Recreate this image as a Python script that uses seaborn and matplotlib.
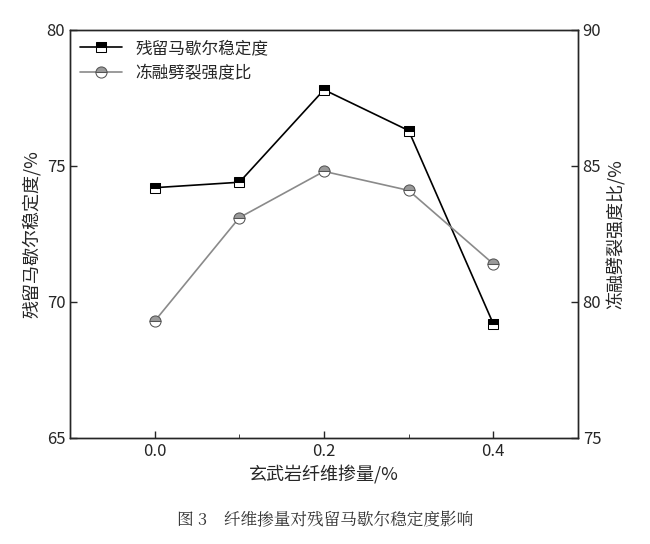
import matplotlib
matplotlib.use("Agg")
import matplotlib.pyplot as plt
import seaborn as sns
import pandas as pd

x = [0.0, 0.1, 0.2, 0.3, 0.4]
stability = [74.2, 74.4, 77.8, 76.3, 69.2]
ratio = [79.3, 83.1, 84.8, 84.1, 81.4]
name1 = "残留马歇尔稳定度"
name2 = "冻融劈裂强度比"

sns.set_style("ticks")
plt.rcParams['font.family'] = ['Noto Sans CJK SC', 'DejaVu Sans']

fig = plt.figure(figsize=(6.5, 5.44), dpi=100)
ax = fig.add_axes([0.108, 0.195, 0.781, 0.75])
ax2 = ax.twinx()
df = pd.DataFrame({"x": x, "s": stability, "r": ratio})

sns.lineplot(data=df, x="x", y="s", ax=ax, color="black", lw=1.2, marker="s",
             markersize=7, fillstyle="top", markerfacecoloralt="white",
             markeredgecolor="black", label=name1, legend=False)
sns.lineplot(data=df, x="x", y="r", ax=ax2, color="#8a8a8a", lw=1.2, marker="o",
             markersize=8, fillstyle="top", markerfacecolor="#9a9a9a",
             markerfacecoloralt="white", markeredgecolor="#555555", label=name2, legend=False)

ax.set_xlim(-0.1, 0.5)
ax.set_ylim(65, 80)
ax2.set_ylim(75, 90)
ax.set_xticks([0.0, 0.2, 0.4])
ax.set_xticks([0.1, 0.3], minor=True)
ax.set_yticks([65, 70, 75, 80])
ax2.set_yticks([75, 80, 85, 90])
for a in (ax, ax2):
    a.tick_params(direction="in", labelsize=12, width=1, length=5)
    a.tick_params(which="minor", direction="in", length=3)
    for s in a.spines.values():
        s.set_visible(True)
        s.set_linewidth(1)
ax.xaxis.set_major_formatter(matplotlib.ticker.FormatStrFormatter("%.1f"))
ax.set_xlabel("玄武岩纤维掺量/%", fontsize=13)
ax.set_ylabel(name1 + "/%", fontsize=13)
ax2.set_ylabel(name2 + "/%", fontsize=13)

h1, l1 = ax.get_legend_handles_labels()
h2, l2 = ax2.get_legend_handles_labels()
ax.legend(h1 + h2, l1 + l2, loc="upper left", frameon=False, fontsize=12,
          handlelength=2.5, borderaxespad=0.2)

fig.text(0.5, 0.035, "图 3　纤维掺量对残留马歇尔稳定度影响", ha="center", fontsize=12,
         family=["Noto Serif CJK SC", "Noto Sans CJK SC", "DejaVu Sans"], color="#333333")
fig.savefig("out.png", dpi=100)
